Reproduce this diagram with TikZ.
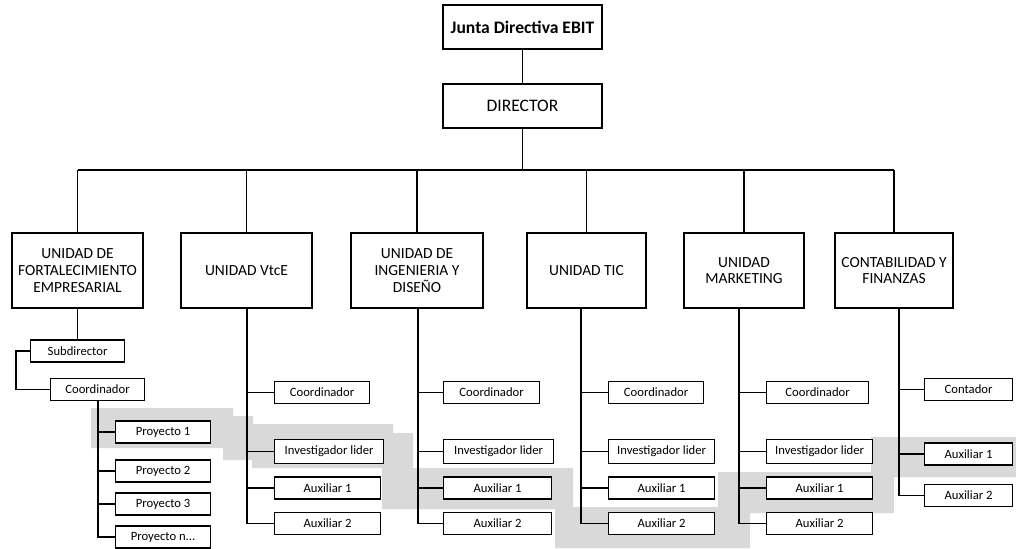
\documentclass[tikz,border=0pt]{standalone}
\usepackage{fontspec}
\setmainfont{Carlito}
\begin{document}
\begin{tikzpicture}[x=0.025cm, y=-0.025cm, line width=0.8pt,
    topbox/.style={draw, fill=white, minimum width=3.975cm, minimum height=1.1cm, font=\fontsize{12.5}{15}\selectfont},
    unitbox/.style={draw, fill=white, minimum height=1.875cm, align=center, font=\fontsize{11}{11.9}\selectfont},
    subbox/.style={draw, fill=white, anchor=west, minimum height=0.55cm, inner sep=1pt, font=\fontsize{9}{10}\selectfont},
    band/.style={fill=black!15}]
    \useasboundingbox (0,0) rectangle (1016,548);

    % highlighted band
    \fill[band] (91,408) -| (233,416) -| (253,424) -| (393,433) -| (413,468) -| (573,507) -| (718,472)
        -| (871,437) -| (1016,477) -| (894,513) -| (750,548) -| (555,509) -| (382,468) -| (252,460)
        -| (223,448) -| (91,408) -- cycle;

    \node[topbox, font=\fontsize{12.5}{15}\selectfont\bfseries] (jd) at (522.5,27) {Junta Directiva EBIT};
    \node[topbox] (dir) at (522.5,106) {DIRECTOR};
    \draw (jd) -- (dir);

    \node[unitbox, minimum width=3.275cm] (u1) at (77.5,270.5) {UNIDAD DE\\FORTALECIMIENTO\\EMPRESARIAL};
    \node[unitbox, minimum width=3.275cm] (u2) at (246.5,270.5) {UNIDAD VtcE};
    \node[unitbox, minimum width=3.3cm] (u3) at (417,270.5) {UNIDAD DE\\INGENIERIA Y\\DISEÑO};
    \node[unitbox, minimum width=2.975cm] (u4) at (586.5,270.5) {UNIDAD TIC};
    \node[unitbox, minimum width=3cm] (u5) at (744,270.5) {UNIDAD\\MARKETING};
    \node[unitbox, minimum width=2.95cm] (u6) at (894,270.5) {CONTABILIDAD Y\\FINANZAS};

    \coordinate (bus) at (0,170);
    \draw (dir.south) -- (dir.south |- bus);
    \draw (u1.north |- bus) -- (u6.north |- bus);
    \foreach \u in {u1,u2,u3,u4,u5,u6}
        \draw (\u.north) -- (\u.north |- bus);

    % fortalecimiento empresarial
    \node[subbox, minimum width=2.35cm] (sub) at (30,351) {Subdirector};
    \node[subbox, minimum width=2.35cm] (coo) at (50,389.5) {Coordinador};
    \coordinate (lft) at (16,0);
    \draw (u1.south) -- (u1.south |- sub.north);
    \draw (sub.west) -- (sub.west -| lft) |- (coo.west);
    \node[subbox, minimum width=2.375cm] (p1) at (115,432) {Proyecto 1};
    \node[subbox, minimum width=2.375cm] (p2) at (115,471) {Proyecto 2};
    \node[subbox, minimum width=2.375cm] (p3) at (115,504) {Proyecto 3};
    \node[subbox, minimum width=2.375cm] (pn) at (115,537) {Proyecto n...};
    \coordinate (pt) at (98,0);
    \foreach \p in {p1,p2,p3,pn}
        \draw (coo.south -| pt) |- (\p.west);

    % vtce, ingenieria, tic, marketing
    \foreach \u/\wx/\tx/\cw/\iw/\aw in {u2/274/247/2.375/2.725/2.65, u3/443/418/2.4/2.75/2.7,
            u4/608/581/2.375/2.65/2.65, u5/766/739/2.55/2.65/2.65} {
        \node[subbox, minimum width=\cw cm] (\u-c) at (\wx,392.5) {Coordinador};
        \node[subbox, minimum width=\iw cm, minimum height=0.6cm] (\u-i) at (\wx,451.5) {Investigador lider};
        \node[subbox, minimum width=\aw cm] (\u-a) at (\wx,488) {Auxiliar 1};
        \node[subbox, minimum width=\aw cm] (\u-b) at (\wx,523.5) {Auxiliar 2};
        \coordinate (\u-t) at (\tx,0);
        \foreach \k in {c,i,a,b}
            \draw (\u.south -| \u-t) |- (\u-\k.west);
    }

    % contabilidad y finanzas
    \node[subbox, minimum width=2.2cm] (u6-c) at (924,389.5) {Contador};
    \node[subbox, minimum width=2.2cm] (u6-a) at (924,454) {Auxiliar 1};
    \node[subbox, minimum width=2.2cm] (u6-b) at (924,495.5) {Auxiliar 2};
    \coordinate (u6-t) at (899,0);
    \foreach \k in {c,a,b}
        \draw (u6.south -| u6-t) |- (u6-\k.west);
\end{tikzpicture}
\end{document}
